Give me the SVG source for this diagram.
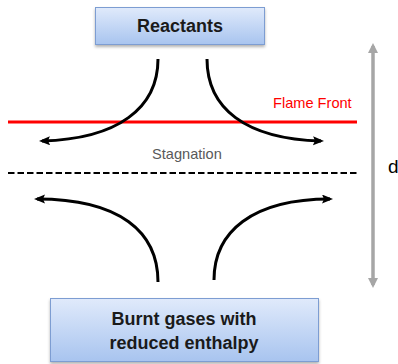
<svg xmlns="http://www.w3.org/2000/svg" width="398" height="364" viewBox="0 0 398 364">
  <defs>
    <linearGradient id="boxGrad" x1="0" y1="0" x2="0" y2="1">
      <stop offset="0" stop-color="#e0eafb"/>
      <stop offset="1" stop-color="#a8c4ef"/>
    </linearGradient>
    <filter id="shadow" x="-10%" y="-20%" width="120%" height="150%">
      <feDropShadow dx="0" dy="2" stdDeviation="1.5" flood-color="#000" flood-opacity="0.3"/>
    </filter>
    <marker id="blackHead" markerUnits="userSpaceOnUse" markerWidth="12" markerHeight="10" refX="8" refY="4.5" orient="auto">
      <path d="M0,0 L11,4.5 L0,9 L2,4.5 z" fill="#000"/>
    </marker>
    <marker id="grayHead" markerUnits="userSpaceOnUse" markerWidth="12" markerHeight="12" refX="7" refY="5" orient="auto-start-reverse">
      <path d="M0,0 L10,5 L0,10 z" fill="#a6a6a6"/>
    </marker>
    <style>
      .box { fill: url(#boxGrad); stroke: #7d9dd2; stroke-width: 1; filter: url(#shadow); }
      .boxText { font-family: "Liberation Sans", Arial, sans-serif; font-weight: bold; font-size: 18px; fill: #1a1a1a; text-anchor: middle; }
      .flow { fill: none; stroke: #000; stroke-width: 3; marker-end: url(#blackHead); }
    </style>
  </defs>

  <g id="reactants">
    <rect class="box" x="95.5" y="7.5" width="169" height="37"/>
    <text class="boxText" x="180" y="32">Reactants</text>
  </g>

  <g id="burnt-gases">
    <rect class="box" x="50.5" y="298.5" width="268" height="63"/>
    <text class="boxText" x="184" y="325">Burnt gases with</text>
    <text class="boxText" x="184" y="349">reduced enthalpy</text>
  </g>

  <g id="flame-front">
    <line x1="8" y1="122" x2="357" y2="122" stroke="#ff0000" stroke-width="3"/>
    <text x="273" y="108" font-family="Liberation Sans, Arial, sans-serif" font-size="14.6" fill="#ff0000">Flame Front</text>
  </g>

  <g id="stagnation">
    <line x1="8" y1="173" x2="357" y2="173" stroke="#000" stroke-width="2" stroke-dasharray="6.5,3"/>
    <text x="152" y="159" font-family="Liberation Sans, Arial, sans-serif" font-size="14.6" fill="#595959">Stagnation</text>
  </g>

  <g id="distance">
    <line x1="373" y1="46" x2="373" y2="285" stroke="#a6a6a6" stroke-width="3.5" marker-start="url(#grayHead)" marker-end="url(#grayHead)"/>
    <text x="388" y="173" font-family="Liberation Sans, Arial, sans-serif" font-size="19" fill="#000">d</text>
  </g>

  <g id="connectors">
    <path class="flow" d="M158,59 C158,108 118,139 42,141"/>
    <path class="flow" d="M207,59 C207,108 245,139 321,141"/>
    <path class="flow" d="M158,282 C158,232 120,199 37,199"/>
    <path class="flow" d="M214,280 C214,232 252,199 330,199"/>
  </g>
</svg>
